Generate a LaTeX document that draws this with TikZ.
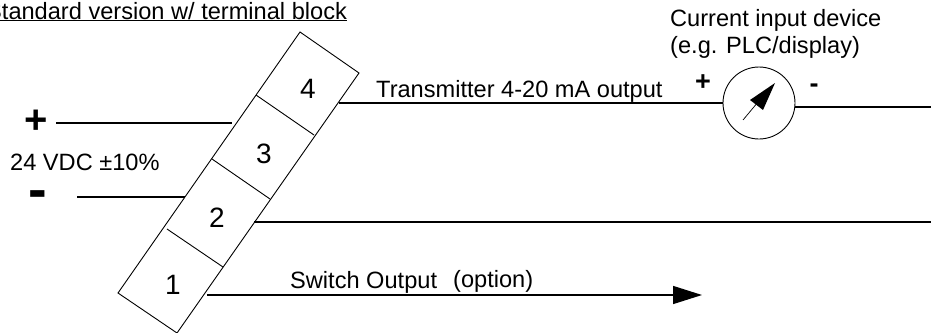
\documentclass[tikz,border=0pt]{standalone}
\usepackage{fontspec}
\setmainfont{Liberation Sans}
\usetikzlibrary{arrows.meta}

\tikzset{
    wire/.style={line width=1.4pt},
    blockline/.style={line width=0.9pt},
    label/.style={inner sep=0pt, font=\fontsize{23.6}{26.5}\selectfont},
    termnum/.style={inner sep=0pt, font=\fontsize{28}{30}\selectfont},
    polarity/.style={inner sep=0pt, font=\fontsize{27}{30}\selectfont\bfseries},
    bigpolarity/.style={inner sep=0pt, font=\fontsize{40}{44}\selectfont\bfseries}
}

\begin{document}
\begin{tikzpicture}[x=1pt, y=-1pt]
                \useasboundingbox (0,0) rectangle (931,332);
%
                \draw [blockline] (300,32) coordinate (blocktop) -- (359,73) coordinate (blockright)
                    -- (177,333) coordinate (blockbottom) -- (118,293) coordinate (blockleft) -- cycle;
                \draw [blockline] (256,95) -- (314,135);
                \draw [blockline] (212,159) -- (270,199);
                \draw [blockline] (167,229) -- (223,267);

                \node [termnum] (term4) at (308,89) {4};
                \node [termnum] (term3) at (264,154) {3};
                \node [termnum] (term2) at (217,218) {2};
                \node [termnum] (term1) at (173,285) {1};
%
                \node [label, anchor=base west] (title) at (-14,19) {\underline{Standard version w/ terminal block}};
                \node [label, anchor=base west] (supply) at (10,170) {24 VDC ±10\%};
                \node [label, anchor=base west] (txlabel) at (376,97) {Transmitter 4-20 mA output};
                \node [label, anchor=base west] (swlabel) at (290,288) {Switch Output};
                \node [label, anchor=base west] (optlabel) at (453,287) {(option)};
                \node [label, anchor=base west, align=left] (device) at (670,53) {Current input device\\(e.g. PLC/display)};
%
                \node [bigpolarity] (supplyplus) at (36,122) {+};
                \node [bigpolarity, font=\fontsize{56}{60}\selectfont\bfseries, anchor=base] (supplyminus) at (37.5,208.5) {-};
                \node [polarity] (meterplus) at (703,83) {+};
                \node [polarity] (meterminus) at (814,88.5) {-};
%
                \node [draw, circle, blockline, minimum size=72pt, inner sep=0pt] (meter) at (759,103) {};
                \coordinate (needlefoot) at (743,120);
                \coordinate (needletip) at (775,83);
                \draw [line width=0.7pt] (needlefoot) -- (758,102);
                \fill (needletip) -- (750,100) -- (763,110) -- cycle;
%
                \coordinate (plusstart) at (56,123);
                \coordinate (plusend) at (232,123);
                \coordinate (minusstart) at (77,197);
                \coordinate (minusend) at (185,197);
                \coordinate (txstart) at (339,103);
                \coordinate (retstart) at (meter.east |- 0,107);
                \coordinate (retend) at (931,107);
                \coordinate (commonstart) at (254,222);
                \coordinate (commonend) at (931,222);
                \coordinate (swstart) at (207,295);
                \coordinate (swend) at (702,295);

                \draw [wire] (plusstart) -- (plusend);
                \draw [wire] (minusstart) -- (minusend);
                \draw [wire] (txstart) -- (meter.west);
                \draw [wire] (retstart) -- (retend);
                \draw [wire] (commonstart) -- (commonend);
                \draw [wire, -{Triangle[length=29pt, width=18pt]}] (swstart) -- (swend);
            \end{tikzpicture}
\end{document}
